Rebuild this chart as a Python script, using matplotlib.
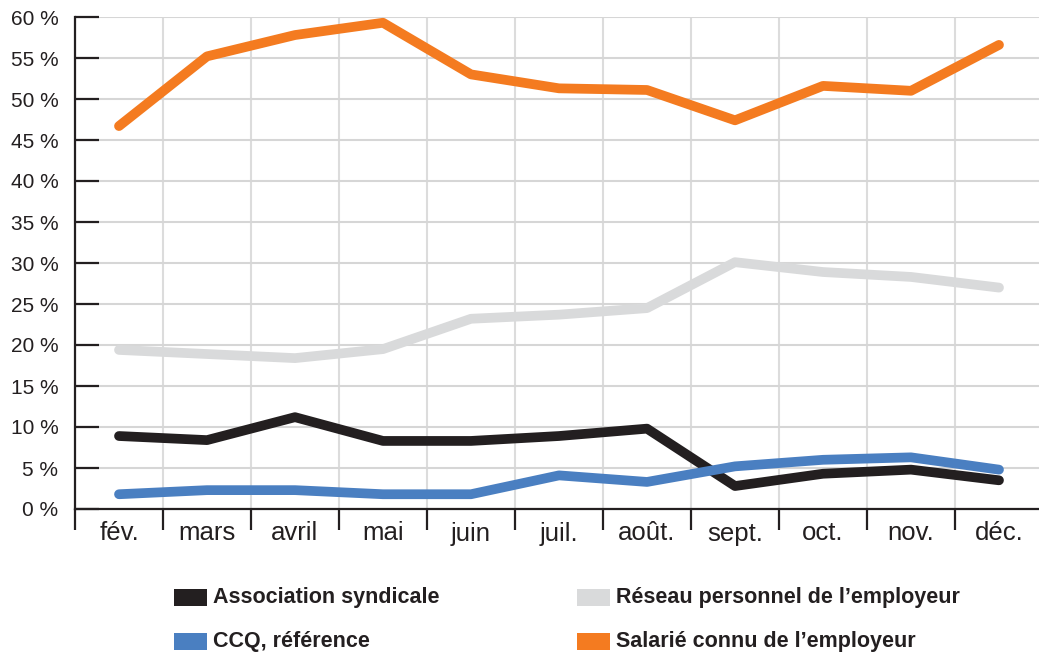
import numpy as np
from matplotlib import pyplot as plt
from matplotlib.patches import Rectangle

# data
months = ['fév.', 'mars', 'avril', 'mai', 'juin', 'juil.', 'août.', 'sept.', 'oct.', 'nov.', 'déc.']
association = [8.9, 8.4, 11.2, 8.3, 8.3, 8.9, 9.8, 2.8, 4.3, 4.8, 3.5]
reseau = [19.4, 18.9, 18.4, 19.5, 23.2, 23.7, 24.5, 30.1, 28.9, 28.3, 27.0]
ccq = [1.8, 2.3, 2.3, 1.8, 1.8, 4.1, 3.3, 5.2, 6.0, 6.3, 4.8]
salarie = [46.7, 55.2, 57.8, 59.3, 53.0, 51.3, 51.1, 47.4, 51.6, 51.0, 56.6]

names = ['Association syndicale', 'Réseau personnel de l\u2019employeur',
         'CCQ, référence', 'Salarié connu de l\u2019employeur']
colors = ['#231F20', '#D9DADB', '#4A7FC1', '#F47B20']
series = [association, reseau, ccq, salarie]

plt.rcParams['font.family'] = ['Liberation Sans', 'DejaVu Sans']

W, H = 1039, 652
fig = plt.figure(figsize=[W / 100, H / 100], dpi=100)
ax = fig.add_axes([75 / W, 1 - 509 / H, 968 / W, (509 - 17) / H])

x = np.arange(len(months))
# draw order: grey, black, blue, orange on top
for idx in [1, 0, 2, 3]:
    ax.plot(x, series[idx], color=colors[idx], lw=7,
            solid_capstyle='round', solid_joinstyle='round', zorder=3)

ax.set_xlim(-0.5, 10.5)
ax.set_ylim(0, 60)

ax.set_yticks(np.arange(0, 61, 5))
ax.set_yticklabels(['%d %%' % v for v in range(0, 61, 5)], fontsize=15, color='#231F20')
ax.tick_params(axis='y', direction='in', length=17, width=1.6, color='#231F20', pad=12)

ax.set_xticks(x)
ax.set_xticklabels(months, fontsize=18.5, color='#231F20')
ax.set_xticks(np.arange(-0.5, 10.6, 1), minor=True)
ax.tick_params(axis='x', which='major', length=0, pad=9)
ax.tick_params(axis='x', which='minor', direction='out', length=15, width=1.6, color='#231F20')

ax.grid(axis='y', which='major', color='#D6D6D6', lw=1.5, zorder=0)
ax.grid(axis='x', which='minor', color='#DCDCDC', lw=1.5, zorder=0)
ax.set_axisbelow(True)

for s in ['top', 'right']:
    ax.spines[s].set_visible(False)
for s in ['left', 'bottom']:
    ax.spines[s].set_linewidth(1.6)
    ax.spines[s].set_color('#231F20')
    ax.spines[s].set_zorder(4)

# legend, two columns drawn by hand
col_x = [174, 577]
row_y = [597, 641]
for i, (name, c) in enumerate(zip(names, colors)):
    px = col_x[i % 2]
    py = row_y[i // 2]
    fig.patches.append(Rectangle((px / W, 1 - (py + 8.5) / H), 33 / W, 17 / H,
                                 transform=fig.transFigure, color=c, lw=0))
    fig.text((px + 39) / W, 1 - (py + 1) / H, name, fontsize=15.5, fontweight='bold',
             color='#231F20', va='center', ha='left')

fig.savefig('out.png', dpi=100)
